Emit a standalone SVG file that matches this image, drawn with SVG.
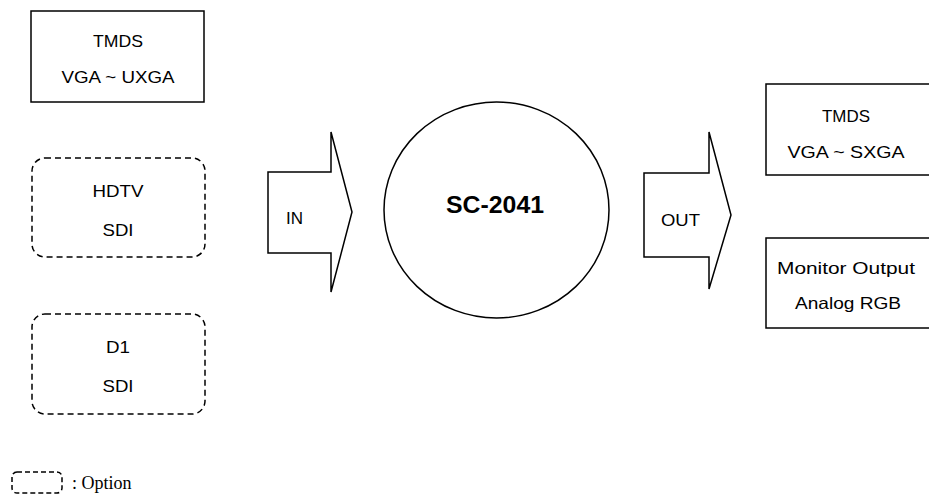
<svg xmlns="http://www.w3.org/2000/svg" width="929" height="504" viewBox="0 0 929 504">
<style>
.box{fill:#fff;stroke:#000;stroke-width:1.5}
.opt{fill:#fff;stroke:#000;stroke-width:1.5;stroke-dasharray:6 4}
.t{font-family:"Liberation Sans",Arial,sans-serif;font-size:16.5px;fill:#000;text-anchor:middle}
.b{font-family:"Liberation Sans",Arial,sans-serif;font-size:23px;font-weight:bold;fill:#000;text-anchor:middle}
.s{font-family:"Liberation Serif","Times New Roman",serif;font-size:18px;fill:#000}
</style>
<rect width="929" height="504" fill="#fff"/>
<g id="tmds-in">
<rect class="box" x="31" y="11" width="173" height="91"/>
<text class="t" x="118" y="47" textLength="50" lengthAdjust="spacingAndGlyphs">TMDS</text>
<text class="t" x="118" y="83" textLength="113" lengthAdjust="spacingAndGlyphs">VGA ~ UXGA</text>
</g>
<g id="hdtv-sdi">
<rect class="opt" x="32" y="158" width="173" height="99" rx="13"/>
<text class="t" x="118" y="197" textLength="51" lengthAdjust="spacingAndGlyphs">HDTV</text>
<text class="t" x="118" y="236" textLength="31" lengthAdjust="spacingAndGlyphs">SDI</text>
</g>
<g id="d1-sdi">
<rect class="opt" x="32" y="314" width="173" height="100" rx="13"/>
<text class="t" x="118" y="353" textLength="24" lengthAdjust="spacingAndGlyphs">D1</text>
<text class="t" x="118" y="392" textLength="31" lengthAdjust="spacingAndGlyphs">SDI</text>
</g>
<g id="connectors">
<g id="in-arrow">
<polygon class="box" points="268,172 331,172 331,132 352,212 331,292 331,253 268,253"/>
<text class="t" x="294.5" y="224" textLength="17" lengthAdjust="spacingAndGlyphs">IN</text>
</g>
<g id="out-arrow">
<polygon class="box" points="644,173 709,173 709,132 731,215 709,289 709,257 644,257"/>
<text class="t" x="680.5" y="226" textLength="39" lengthAdjust="spacingAndGlyphs">OUT</text>
</g>
</g>
<g id="sc2041">
<ellipse class="box" cx="496.5" cy="210" rx="112.5" ry="108"/>
<text class="b" x="495" y="213" textLength="98" lengthAdjust="spacingAndGlyphs">SC-2041</text>
</g>
<g id="tmds-out">
<rect class="box" x="766" y="84" width="170" height="91"/>
<text class="t" x="846" y="122" textLength="48" lengthAdjust="spacingAndGlyphs">TMDS</text>
<text class="t" x="846" y="158" textLength="117" lengthAdjust="spacingAndGlyphs">VGA ~ SXGA</text>
</g>
<g id="monitor-out">
<rect class="box" x="766" y="238" width="170" height="90"/>
<text class="t" x="846" y="274" textLength="138" lengthAdjust="spacingAndGlyphs">Monitor Output</text>
<text class="t" x="848" y="309" textLength="106" lengthAdjust="spacingAndGlyphs">Analog RGB</text>
</g>
<g id="legend">
<rect class="opt" x="12" y="472" width="50" height="21" rx="5" style="stroke-dasharray:5 3"/>
<text class="s" x="72" y="489">: Option</text>
</g>
</svg>
